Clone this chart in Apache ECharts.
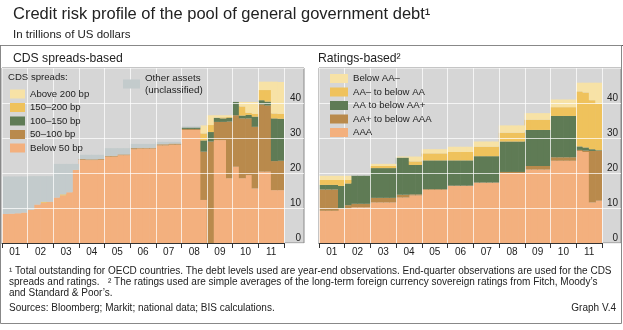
<!DOCTYPE html>
<html>
<head>
<meta charset="utf-8">
<script src="https://cdn.jsdelivr.net/npm/echarts@6/dist/echarts.min.js"></script>
<style>
  html, body { margin: 0; padding: 0; background: #fff; }
  #chart { width: 623px; height: 330px; }
</style>
</head>
<body>
<div id="chart"></div>
<script>
// Years on the axis; each year holds four end-quarter observations
const years = ['01', '02', '03', '04', '05', '06', '07', '08', '09', '10', '11'];
const quarters = years.flatMap(y => ['Q1', 'Q2', 'Q3', 'Q4'].map(q => y + q));
const yTicks = [0, 10, 20, 30, 40];

// CDS spreads-based split, trillions of US dollars per quarter
const cdsBelow50 = [
  8.3, 8.4, 8.5, 8.7,   9.5, 11.0, 11.5, 11.8,   13.0, 13.6, 14.5, 20.9,
  23.8, 23.7, 23.7, 23.8,   24.7, 24.7, 25.1, 25.1,   26.8, 27.0, 27.0, 27.0,
  27.9, 27.9, 28.1, 28.1,   32.3, 32.3, 32.3, 12.3,   0, 29.4, 29.4, 18.5,
  21.8, 18.5, 19.4, 15.6,   20.4, 20.4, 15.1, 15.1
];
const cds50to100 = [
  0, 0, 0, 0,   0, 0, 0, 0,   0, 0, 0, 0,
  0.2, 0.2, 0.2, 0.2,   0.2, 0.2, 0.2, 0.2,   0.3, 0.2, 0.2, 0.2,
  0.3, 0.3, 0.3, 0.3,   0.3, 0.3, 0.3, 13.8,   29.0, 5.2, 5.2, 16.2,
  14.7, 17.1, 16.2, 17.6,   19.2, 18.9, 8.3, 8.4
];
const cds100to150 = [
  0, 0, 0, 0,   0, 0, 0, 0,   0, 0, 0, 0,
  0, 0, 0, 0,   0, 0, 0, 0,   0, 0, 0, 0,
  0, 0, 0, 0,   0.4, 0.4, 0.4, 3.2,   2.7, 1.2, 1.0, 1.1,
  3.8, 0.8, 1.0, 2.9,   1.2, 1.1, 12.2, 12.0
];
const cds150to200 = [
  0, 0, 0, 0,   0, 0, 0.3, 0,   0, 0.3, 0, 0,
  0, 0, 0, 0,   0, 0, 0, 0,   0, 0, 0, 0,
  0, 0, 0, 0,   0, 0, 0, 2.0,   2.0, 0, 0.3, 0.2,
  0, 2.6, 0.6, 0.8,   2.9, 3.3, 1.4, 1.4
];
const cdsAbove200 = [
  0, 0, 0, 0,   0, 0, 0, 0,   0, 0, 0, 0,
  0, 0, 0, 0,   0, 0, 0, 0,   0, 0, 0, 0,
  0, 0, 0, 0,   0, 0, 0, 2.3,   2.8, 0.7, 0.6, 0.5,
  0, 1.3, 3.1, 3.4,   2.4, 2.4, 9.1, 9.1
];
const cdsOther = [
  10.7, 10.6, 10.5, 10.3,   9.6, 8.1, 7.3, 7.3,   9.6, 8.7, 8.1, 1.7,
  1.2, 1.3, 1.3, 1.2,   2.2, 2.2, 1.8, 1.8,   1.2, 1.1, 1.1, 1.1,
  0.7, 0.7, 0.5, 0.5,   0.3, 0.3, 0.3, 0,   0, 0, 0, 0,
  0, 0, 0, 0,   0, 0, 0, 0
];

// Ratings-based split, trillions of US dollars per quarter
const ratAAA = [
  9.2, 9.2, 9.2, 9.9,   9.8, 10.2, 10.2, 10.2,   11.6, 11.6, 11.6, 11.6,
  13.0, 13.0, 13.6, 13.6,   15.2, 15.2, 15.2, 15.2,   16.3, 16.3, 16.3, 16.3,
  17.2, 17.2, 17.2, 17.2,   20.0, 20.0, 20.0, 20.0,   21.0, 21.0, 21.0, 21.0,
  23.5, 23.5, 23.5, 23.5,   26.3, 26.0, 11.6, 12.1
];
const ratAAplus = [
  6.1, 6.1, 6.1, 0,   1.0, 1.0, 1.0, 1.0,   1.3, 1.3, 1.3, 1.3,
  0.8, 0.8, 0.3, 0.3,   0.2, 0.2, 0.2, 0.2,   0.1, 0.1, 0.1, 0.1,
  0.1, 0.1, 0.1, 0.1,   0.3, 0.3, 0.3, 0.3,   1.0, 1.0, 1.0, 1.0,
  1.0, 1.0, 1.0, 1.0,   0.3, 0.4, 14.7, 14.2
];
const ratAA = [
  1.3, 1.3, 1.3, 6.4,   6.2, 8.0, 8.0, 8.0,   8.5, 8.5, 8.5, 8.5,
  10.6, 10.6, 8.4, 8.4,   8.2, 8.2, 8.2, 8.2,   7.2, 7.2, 7.2, 7.2,
  7.5, 7.5, 7.5, 7.5,   8.7, 8.7, 8.7, 8.7,   10.3, 10.3, 10.3, 10.3,
  11.8, 11.8, 11.8, 11.8,   1.0, 0.9, 0.5, 0.2
];
const ratAAminus = [
  1.4, 1.4, 1.4, 1.7,   1.0, 0, 0, 0,   0.6, 0.6, 0.6, 0.6,
  0, 0, 1.0, 1.0,   2.0, 2.0, 2.0, 2.0,   2.4, 2.4, 2.4, 2.4,
  2.7, 2.7, 2.7, 2.7,   2.5, 2.5, 2.5, 2.5,   2.9, 2.9, 2.9, 2.9,
  2.5, 2.5, 2.5, 2.5,   15.7, 15.7, 14.0, 13.4
];
const ratBelowAAminus = [
  1.2, 1.2, 1.2, 1.2,   1.2, 0, 0, 0,   0.6, 0.6, 0.6, 0.6,
  0.3, 0.3, 1.4, 1.4,   1.2, 1.2, 1.2, 1.2,   1.5, 1.5, 1.5, 1.5,
  1.5, 1.5, 1.5, 1.5,   2.1, 2.1, 2.1, 2.1,   1.9, 1.9, 1.9, 1.9,
  2.2, 2.2, 2.2, 2.2,   2.5, 2.8, 5.0, 5.9
];

// Palette
const C = {
  peach: '#f3b07e', brown: '#b98a4c', green: '#5f7b55',
  gold: '#efc25c', pale: '#f7e2a6', other: '#c3cbcc',
  panel: '#d6d6d6', text: '#222222', rule: '#555555',
  grid: 'rgba(255,255,255,0.72)'
};
const FONT = "'Liberation Sans', Arial, sans-serif";

// Panel geometry (pixels)
const TOP = 68, H = 175;
const L = { x: 2, plotW: 282, fullW: 302 };
const R = { x: 319, plotW: 283, fullW: 302 };

const chart = echarts.init(document.getElementById('chart'), null, { renderer: 'canvas' });

// Year axis: labels, boundary ticks and the white vertical rules drawn over the bars
function yearAxis(gridIndex) {
  return {
    type: 'category', gridIndex, data: years, position: 'bottom', zlevel: 1, z: 5,
    axisLine: { show: true, lineStyle: { color: '#333', width: 1 } },
    axisTick: { show: true, length: 5, interval: 0, lineStyle: { color: '#333' } },
    axisLabel: { color: C.text, fontSize: 10, fontFamily: FONT, margin: 4, interval: 0 },
    splitLine: { show: true, interval: 0, lineStyle: { color: C.grid, width: 1 } }
  };
}
function quarterAxis(gridIndex) {
  return { type: 'category', gridIndex, data: quarters, show: false, boundaryGap: true };
}
// Value axis on the right: labels sit just above their rules
function labelAxis(gridIndex) {
  return {
    type: 'value', gridIndex, min: 0, max: 50, interval: 10, position: 'right', zlevel: 1, z: 5,
    axisLine: { show: false }, axisTick: { show: false },
    axisLabel: {
      inside: true, margin: 3, color: C.text, fontSize: 10, fontFamily: FONT,
      verticalAlign: 'bottom', showMaxLabel: false,
      formatter: v => (yTicks.includes(v) ? String(v) : '')
    },
    splitLine: { show: true, lineStyle: { color: C.grid, width: 1 } }
  };
}
function hiddenValueAxis(gridIndex) {
  return { type: 'value', gridIndex, min: 0, max: 50, interval: 10, show: false, splitLine: { show: false } };
}

function bars(name, data, color, xi, yi, stack, bw) {
  return {
    name, type: 'bar', data, stack, xAxisIndex: xi, yAxisIndex: yi,
    barWidth: bw, barCategoryGap: '0%', silent: true,
    itemStyle: { color }, emphasis: { disabled: true }
  };
}

const bwL = L.plotW / quarters.length + 0.6;
const bwR = R.plotW / quarters.length + 0.6;

const legendText = { color: C.text, fontSize: 9.6, fontFamily: FONT, lineHeight: 12 };
const legendBase = { orient: 'vertical', icon: 'rect', selectedMode: false, padding: 0, zlevel: 1, z: 10 };

const option = {
  animation: false,
  backgroundColor: '#ffffff',
  grid: [
    { left: L.x, top: TOP, width: L.fullW, height: H, show: true, backgroundColor: C.panel, borderColor: '#8a8a8a', borderWidth: 1 },
    { left: L.x, top: TOP, width: L.plotW, height: H },
    { left: R.x, top: TOP, width: R.fullW, height: H, show: true, backgroundColor: C.panel, borderColor: '#8a8a8a', borderWidth: 1 },
    { left: R.x, top: TOP, width: R.plotW, height: H }
  ],
  xAxis: [
    { type: 'value', gridIndex: 0, min: 0, max: 1, show: false },
    quarterAxis(1),
    yearAxis(1),
    { type: 'value', gridIndex: 2, min: 0, max: 1, show: false },
    quarterAxis(3),
    yearAxis(3)
  ],
  yAxis: [
    labelAxis(0),
    hiddenValueAxis(1),
    labelAxis(2),
    hiddenValueAxis(3)
  ],
  legend: [
    Object.assign({}, legendBase, {
      left: 10, top: 88, itemWidth: 15, itemHeight: 9, itemGap: 1.5, textStyle: legendText,
      data: ['Above 200 bp', '150–200 bp', '100–150 bp', '50–100 bp', 'Below 50 bp']
    }),
    Object.assign({}, legendBase, {
      left: 123, top: 66, itemWidth: 17, itemHeight: 9,
      textStyle: Object.assign({}, legendText, { fontSize: 9.8, padding: [12, 0, 0, 0] }),
      formatter: n => n + '\n(unclassified)',
      data: ['Other assets']
    }),
    Object.assign({}, legendBase, {
      left: 330, top: 72.5, itemWidth: 18, itemHeight: 9, itemGap: 1.5, textStyle: legendText,
      data: ['Below AA–', 'AA– to below AA', 'AA to below AA+', 'AA+ to below AAA', 'AAA']
    })
  ],
  series: [
    bars('Below 50 bp', cdsBelow50, C.peach, 1, 1, 'cds', bwL),
    bars('50–100 bp', cds50to100, C.brown, 1, 1, 'cds', bwL),
    bars('100–150 bp', cds100to150, C.green, 1, 1, 'cds', bwL),
    bars('150–200 bp', cds150to200, C.gold, 1, 1, 'cds', bwL),
    bars('Above 200 bp', cdsAbove200, C.pale, 1, 1, 'cds', bwL),
    bars('Other assets', cdsOther, C.other, 1, 1, 'cds', bwL),
    bars('AAA', ratAAA, C.peach, 4, 3, 'rat', bwR),
    bars('AA+ to below AAA', ratAAplus, C.brown, 4, 3, 'rat', bwR),
    bars('AA to below AA+', ratAA, C.green, 4, 3, 'rat', bwR),
    bars('AA– to below AA', ratAAminus, C.gold, 4, 3, 'rat', bwR),
    bars('Below AA–', ratBelowAAminus, C.pale, 4, 3, 'rat', bwR)
  ],
  graphic: { elements: [
    { type: 'text', left: 13, top: 5.5, style: { text: 'Credit risk profile of the pool of general government debt¹', font: `16.5px ${FONT}`, fill: C.text } },
    { type: 'text', left: 13, top: 29, style: { text: 'In trillions of US dollars', font: `11.5px ${FONT}`, fill: C.text } },
    { type: 'line', shape: { x1: 0, y1: 45.5, x2: 623, y2: 45.5 }, style: { stroke: C.rule, lineWidth: 1 } },
    { type: 'rect', shape: { x: 0.5, y: 45.5, width: 621, height: 278 }, style: { fill: 'none', stroke: '#888', lineWidth: 1 } },
    { type: 'text', left: 13, top: 53, style: { text: 'CDS spreads-based', font: `12.2px ${FONT}`, fill: C.text } },
    { type: 'text', left: 318, top: 53, style: { text: 'Ratings-based²', font: `12.2px ${FONT}`, fill: C.text } },
    { type: 'text', left: 8, top: 72.5, zlevel: 1, z: 10, style: { text: 'CDS spreads:', font: `9.6px ${FONT}`, fill: C.text } },
    { type: 'text', left: 9, top: 266.5, style: { text: '¹ Total outstanding for OECD countries. The debt levels used are year-end observations. End-quarter observations are used for the CDS', font: `10px ${FONT}`, fill: C.text } },
    { type: 'text', left: 9, top: 277.5, style: { text: 'spreads and ratings.   ² The ratings used are simple averages of the long-term foreign currency sovereign ratings from Fitch, Moody’s', font: `10px ${FONT}`, fill: C.text } },
    { type: 'text', left: 9, top: 288, style: { text: 'and Standard & Poor’s.', font: `10px ${FONT}`, fill: C.text } },
    { type: 'text', left: 9, top: 303.5, style: { text: 'Sources: Bloomberg; Markit; national data; BIS calculations.', font: `10px ${FONT}`, fill: C.text } },
    { type: 'text', right: 7, top: 303.5, style: { text: 'Graph V.4', font: `10px ${FONT}`, fill: C.text } }
  ] }
};

chart.setOption(option);
</script>
</body>
</html>
